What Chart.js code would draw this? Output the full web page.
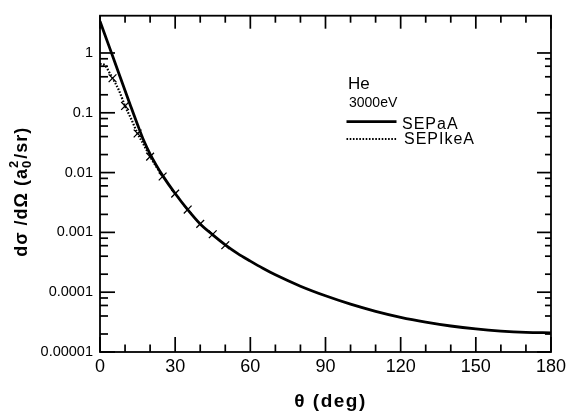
<!DOCTYPE html>
<html>
<head>
<meta charset="utf-8">
<script src="https://cdn.jsdelivr.net/npm/chart.js@4/dist/chart.umd.min.js"></script>
<style>
html,body{margin:0;padding:0;background:#fff;}
</style>
</head>
<body>
<canvas id="c" width="570" height="411"></canvas>
<script>
// ---- data ----
const thetaSEPaA = [0, 4, 8, 12, 15, 17.5, 20, 22.5, 25, 30, 35, 40, 45, 50, 55, 60, 65, 70, 80, 90, 100, 110, 120, 130, 140, 150, 160, 170, 180];
const valuesSEPaA = [3.4, 1.17, 0.40, 0.138, 0.063, 0.034, 0.0204, 0.0132, 0.0089, 0.00447, 0.0024, 0.00138, 0.00091, 0.00062, 0.000442, 0.000331, 0.000251, 0.000195, 0.000126, 0.0000871, 0.0000631, 0.0000479, 0.000038, 0.0000316, 0.0000272, 0.0000243, 0.0000224, 0.0000213, 0.0000209];
const thetaSEPIkeA = [0, 2, 4, 5, 7.5, 10, 12.5, 15, 17.5, 20, 22.5, 25];
const valuesSEPIkeA = [0.66, 0.62, 0.45, 0.38, 0.24, 0.13, 0.078, 0.045, 0.029, 0.0185, 0.0125, 0.0087];
const thetaExp = [5, 10, 15, 20, 25, 30, 35, 40, 45, 50];
const valuesExp = [0.378, 0.13, 0.045, 0.0185, 0.0086, 0.00445, 0.00241, 0.00139, 0.00093, 0.00061];
const xTickValues = [0, 30, 60, 90, 120, 150, 180];
const yTickValues = [0.00001, 0.0001, 0.001, 0.01, 0.1, 1];
const yTickLabels = ['0.00001', '0.0001', '0.001', '0.01', '0.1', '1'];
const legendTitle = 'He';
const legendSub = '3000eV';
const seriesNames = ['SEPaA', 'SEPIkeA'];
const xTitle = 'θ (deg)';

const pts = (xs, ys) => xs.map((x, i) => ({x: x, y: ys[i]}));
const FONT = '"Liberation Sans", Arial, sans-serif';
const TICKCOLOR = '#000';

function setSpacing(ctx, s) { try { ctx.letterSpacing = s; } catch (e) {} }

const frameAndTicks = {
  id: 'frameAndTicks',
  afterDraw(chart) {
    const ctx = chart.ctx, a = chart.chartArea;
    const sx = chart.scales.x, sy = chart.scales.y;
    ctx.save();
    ctx.setLineDash([]);
    ctx.fillStyle = '#000';
    ctx.strokeStyle = '#000';
    ctx.lineWidth = 1.8;
    ctx.strokeRect(a.left, a.top, a.right - a.left, a.bottom - a.top);
    ctx.fillStyle = TICKCOLOR;
    const w = 1.7;
    for (let t = 0; t <= 180; t += 10) {
      const px = sx.getPixelForValue(t);
      const major = t % 30 === 0;
      const lb = major ? 15 : 7.5, lt = major ? 13 : 7;
      ctx.fillRect(px - w / 2, a.bottom - lb, w, lb);
      ctx.fillRect(px - w / 2, a.top, w, lt);
    }
    for (let e = -5; e <= 0; e++) {
      const mults = e === 0 ? [1] : [1, 2, 4, 6, 8];
      for (const m of mults) {
        const py = sy.getPixelForValue(m * Math.pow(10, e));
        const major = m === 1;
        const ll = major ? 15 : 8, lr = major ? 14 : 6;
        ctx.fillRect(a.left, py - w / 2, ll, w);
        ctx.fillRect(a.right - lr, py - w / 2, lr, w);
      }
    }
    ctx.fillStyle = '#000';

    // axis titles
    ctx.textBaseline = 'middle';
    ctx.textAlign = 'center';
    ctx.font = 'bold 19px ' + FONT;
    setSpacing(ctx, '1.5px');
    ctx.fillText(xTitle, (a.left + a.right) / 2 + 5, 401.5);

    ctx.save();
    ctx.translate(21, (a.top + a.bottom) / 2 + 8);
    ctx.rotate(-Math.PI / 2);
    ctx.textAlign = 'left';
    ctx.textBaseline = 'alphabetic';
    setSpacing(ctx, '1px');
    const big = 'bold 18px ' + FONT, small = 'bold 13px ' + FONT;
    const p1 = 'dσ /dΩ (a', p2 = '/sr)';
    ctx.font = big; const w1 = ctx.measureText(p1).width, w2 = ctx.measureText(p2).width;
    ctx.font = small; const ws = ctx.measureText('0').width;
    let x = -(w1 + ws + 1 + w2) / 2;
    const base = 6;
    ctx.font = big; ctx.fillText(p1, x, base); x += w1;
    ctx.font = small; ctx.fillText('0', x, base + 4); ctx.fillText('2', x, base - 9); x += ws + 1;
    ctx.font = big; ctx.fillText(p2, x, base);
    ctx.restore();

    // legend / annotation
    const L = a.left;
    setSpacing(ctx, '0px');
    ctx.textBaseline = 'alphabetic';
    ctx.textAlign = 'left';
    ctx.font = '17px ' + FONT;
    ctx.fillText(legendTitle, L + 248, 88.5);
    ctx.font = '14px ' + FONT;
    ctx.fillText(legendSub, L + 249, 106.7);
    ctx.font = '16px ' + FONT;
    setSpacing(ctx, '1px');
    ctx.fillText(seriesNames[0], L + 302, 129.3);
    ctx.fillText(seriesNames[1], L + 304, 143.5);
    setSpacing(ctx, '0px');
    ctx.lineWidth = 2.8;
    ctx.beginPath(); ctx.moveTo(L + 246.5, 121.7); ctx.lineTo(L + 296.5, 121.7); ctx.stroke();
    ctx.lineWidth = 2;
    ctx.setLineDash([1.6, 1.6]);
    ctx.beginPath(); ctx.moveTo(L + 246.5, 139); ctx.lineTo(L + 296.5, 139); ctx.stroke();
    ctx.restore();
  }
};

new Chart(document.getElementById('c'), {
  type: 'scatter',
  data: {
    datasets: [
      {
        label: seriesNames[0],
        data: pts(thetaSEPaA, valuesSEPaA),
        showLine: true,
        borderColor: '#000',
        borderWidth: 2.8,
        pointRadius: 0,
        cubicInterpolationMode: 'monotone'
      },
      {
        label: seriesNames[1],
        data: pts(thetaSEPIkeA, valuesSEPIkeA),
        showLine: true,
        borderColor: '#000',
        borderWidth: 2.2,
        borderDash: [1.6, 1.6],
        pointRadius: 0,
        cubicInterpolationMode: 'monotone'
      },
      {
        label: 'Expt',
        data: pts(thetaExp, valuesExp),
        showLine: false,
        pointStyle: 'crossRot',
        pointRadius: 5.5,
        borderColor: '#000',
        backgroundColor: '#000',
        borderWidth: 1.3
      }
    ]
  },
  options: {
    responsive: false,
    animation: false,
    layout: {padding: {top: 13, right: 17, left: 0, bottom: 0}},
    plugins: {legend: {display: false}, tooltip: {enabled: false}},
    scales: {
      x: {
        type: 'linear',
        min: 0, max: 180,
        afterBuildTicks: (s) => { s.ticks = xTickValues.map(v => ({value: v})); },
        afterFit: (s) => { s.height = 59; },
        grid: {display: false, drawTicks: false},
        border: {display: false},
        ticks: {color: '#000', padding: 4, font: {family: FONT, size: 18}, maxRotation: 0},
        title: {display: false}
      },
      y: {
        type: 'logarithmic',
        min: 0.00001, max: 4.2,
        afterBuildTicks: (s) => { s.ticks = yTickValues.map(v => ({value: v})); },
        afterFit: (s) => { s.width = 100; },
        grid: {display: false, drawTicks: false},
        border: {display: false},
        ticks: {
          color: '#000', padding: 7,
          font: {family: FONT, size: 14.5},
          callback: (v) => { const i = yTickValues.findIndex(t => Math.abs(t - v) / t < 1e-6); return i >= 0 ? yTickLabels[i] : ''; }
        },
        title: {display: false}
      }
    }
  },
  plugins: [frameAndTicks]
});
</script>
</body>
</html>
